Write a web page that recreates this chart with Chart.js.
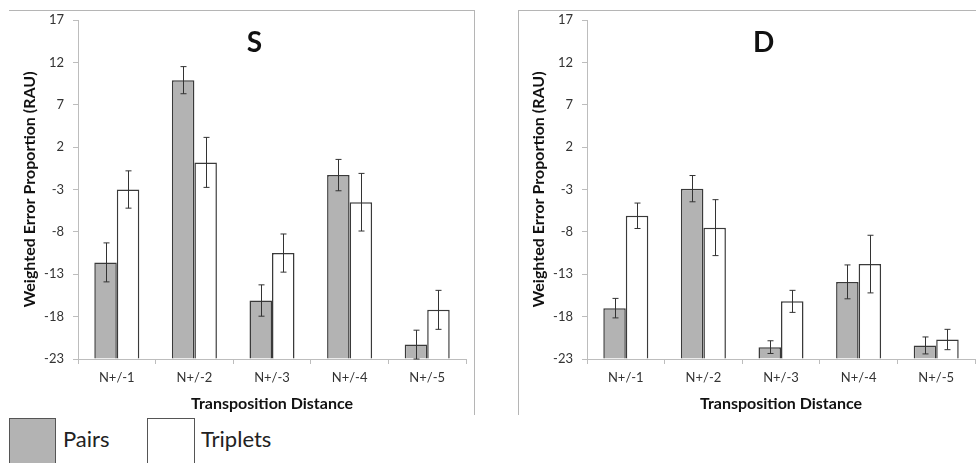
<!DOCTYPE html>
<html>
<head>
<meta charset="utf-8">
<script src="https://cdn.jsdelivr.net/npm/chart.js@4"></script>
<style>
  html, body { margin: 0; padding: 0; background: #fff; }
  body { width: 976px; height: 463px; position: relative; overflow: hidden; font-family: Lato, sans-serif; }
  .box { position: absolute; box-sizing: border-box; }
  canvas { position: absolute; }
  .lg-swatch { position: absolute; box-sizing: border-box; border: 1px solid #555; }
  .lg-text { position: absolute; font-size: 22px; color: #222; line-height: 1; }
</style>
</head>
<body>
<div class="box" style="left:9px;top:10px;width:466px;height:405px;border-top:1px solid #b5b5b5;border-right:1px solid #b5b5b5;"></div>
<div class="box" style="left:518px;top:10px;width:470px;height:405px;border-top:1px solid #b5b5b5;border-left:1px solid #b5b5b5;"></div>
<div id="wl" style="position:absolute;left:0;top:0;width:476px;height:415px;"><canvas id="cS"></canvas></div>
<div id="wr" style="position:absolute;left:518px;top:0;width:458px;height:415px;"><canvas id="cD"></canvas></div>

<div class="lg-swatch" style="left:9px;top:418px;width:47px;height:50px;background:#b3b3b3;"></div>
<div class="lg-text" style="left:63px;top:428px;">Pairs</div>
<div class="lg-swatch" style="left:147px;top:418px;width:48px;height:50px;background:#fff;"></div>
<div class="lg-text" style="left:201px;top:428px;">Triplets</div>

<script>
const categories = ['N+/-1', 'N+/-2', 'N+/-3', 'N+/-4', 'N+/-5'];
const yTicks = [-23, -18, -13, -8, -3, 2, 7, 12, 17];
const seriesNames = ['Pairs', 'Triplets'];

const sPairs = [-11.6, 9.9, -16.1, -1.3, -21.3];
const sPairsErr = [2.3, 1.6, 1.85, 1.85, 1.7];
const sTriplets = [-3.0, 0.2, -10.5, -4.5, -17.2];
const sTripletsErr = [2.2, 2.95, 2.25, 3.4, 2.3];

const dPairs = [-17.0, -2.9, -21.6, -13.9, -21.4];
const dPairsErr = [1.15, 1.55, 0.75, 2.0, 1.0];
const dTriplets = [-6.1, -7.5, -16.2, -11.8, -20.7];
const dTripletsErr = [1.5, 3.3, 1.3, 3.4, 1.2];

const FONT = 'Lato, sans-serif';
const AXIS = '#bdbdbd';

const errorBarPlugin = {
  id: 'errorBars',
  afterDatasetsDraw(chart) {
    const ctx = chart.ctx;
    const ys = chart.scales.y;
    ctx.save();
    ctx.strokeStyle = '#333';
    ctx.lineWidth = 1;
    chart.data.datasets.forEach((ds, di) => {
      const meta = chart.getDatasetMeta(di);
      meta.data.forEach((bar, i) => {
        const v = ds.data[i], e = ds.errors[i];
        const x = Math.round(bar.x) + 0.5;
        const yt = ys.getPixelForValue(v + e);
        const yb = Math.min(ys.getPixelForValue(v - e), ys.bottom);
        ctx.beginPath();
        ctx.moveTo(x, yt); ctx.lineTo(x, yb);
        ctx.moveTo(x - 3, yt); ctx.lineTo(x + 3, yt);
        if (ys.getPixelForValue(v - e) <= ys.bottom) { ctx.moveTo(x - 3, yb); ctx.lineTo(x + 3, yb); }
        ctx.stroke();
      });
    });
    ctx.restore();
  }
};

const panelTitlePlugin = {
  id: 'panelTitle',
  afterDraw(chart, args, opts) {
    const ctx = chart.ctx;
    const a = chart.chartArea;
    ctx.save();
    ctx.font = 'bold 28px ' + FONT;
    ctx.fillStyle = '#111';
    ctx.textAlign = 'center';
    ctx.textBaseline = 'middle';
    ctx.fillText(opts.text, a.left + 0.455 * (a.right - a.left), a.top + 23);
    ctx.restore();
  }
};

function makeChart(id, title, pairs, pairsErr, trips, tripsErr, yWidth, yTitlePad, padRight) {
  return new Chart(document.getElementById(id), {
    type: 'bar',
    data: {
      labels: categories,
      datasets: [
        { label: seriesNames[0], data: pairs, errors: pairsErr, base: yTicks[0],
          backgroundColor: '#b3b3b3', borderColor: '#3a3a3a', borderWidth: 1.5,
          categoryPercentage: 0.58, barPercentage: 1.0 },
        { label: seriesNames[1], data: trips, errors: tripsErr, base: yTicks[0],
          backgroundColor: '#ffffff', borderColor: '#3a3a3a', borderWidth: 1.5,
          categoryPercentage: 0.58, barPercentage: 1.0 }
      ]
    },
    options: {
      responsive: true,
      maintainAspectRatio: false,
      animation: false,
      layout: { padding: { top: 20, right: padRight, bottom: 0, left: 0 } },
      plugins: {
        legend: { display: false },
        tooltip: { enabled: false },
        panelTitle: { text: title }
      },
      scales: {
        x: {
          type: 'category',
          offset: true,
          grid: { display: true, offset: true, drawOnChartArea: false, color: AXIS, tickLength: 5 },
          border: { display: true, color: AXIS, width: 1 },
          ticks: { font: { family: FONT, size: 13 }, color: '#333', padding: 6, maxRotation: 0 },
          title: { display: true, text: 'Transposition Distance', font: { family: FONT, size: 16, weight: 'bold' }, color: '#111', padding: { top: 0, bottom: 2 } },
          afterFit(scale) { scale.height = 56; }
        },
        y: {
          min: yTicks[0],
          max: yTicks[yTicks.length - 1],
          afterBuildTicks(scale) { scale.ticks = yTicks.map(v => ({ value: v })); },
          grid: { display: true, drawOnChartArea: false, color: AXIS, tickLength: 5 },
          border: { display: true, color: AXIS, width: 1 },
          ticks: { font: { family: FONT, size: 13 }, color: '#333', padding: 9 },
          title: { display: true, text: 'Weighted Error Proportion (RAU)', font: { family: FONT, size: 16, weight: 'bold' }, color: '#111', padding: { top: yTitlePad, bottom: 0 } },
          afterFit(scale) { scale.width = yWidth; }
        }
      }
    },
    plugins: [errorBarPlugin, panelTitlePlugin]
  });
}

makeChart('cS', 'S', sPairs, sPairsErr, sTriplets, sTripletsErr, 78, 20, 10);
makeChart('cD', 'D', dPairs, dPairsErr, dTriplets, dTripletsErr, 69, 11, 1);
</script>
</body>
</html>
